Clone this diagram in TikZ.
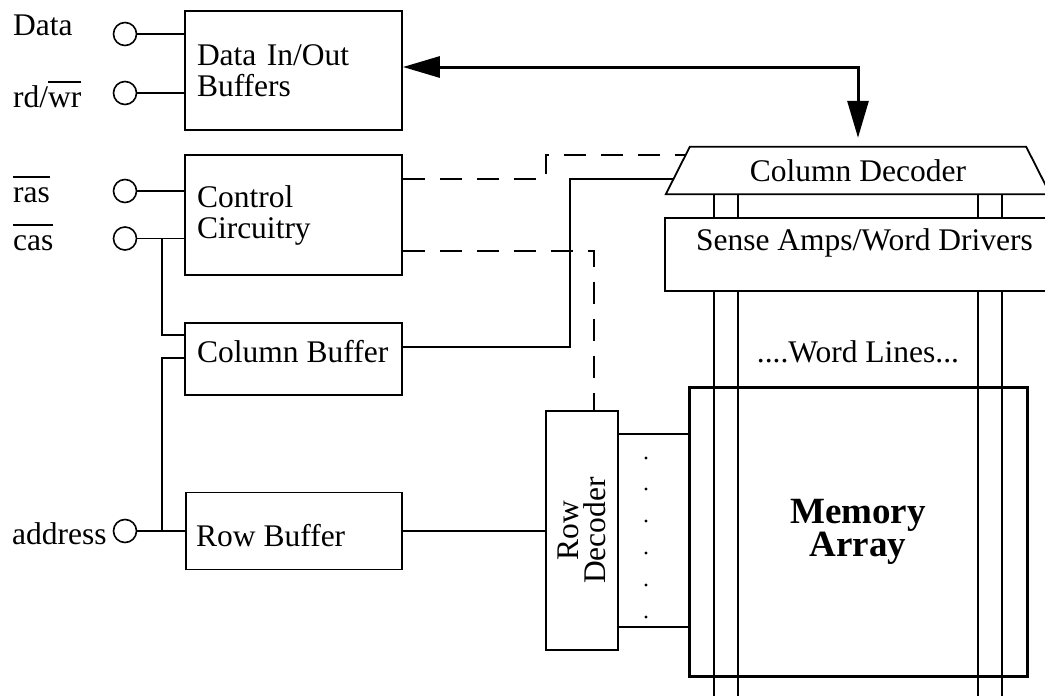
\documentclass[tikz,border=0pt]{standalone}
\usepackage{fontspec}
\setmainfont{Liberation Serif}
\newfontfamily\memfont{Liberation Serif}
\usetikzlibrary{arrows.meta,calc}
% overline placed at a fixed height above the baseline
\newcommand\ovl[1]{\setbox0=\hbox{#1}\rlap{\rule[24.5pt]{\wd0}{1.8pt}}\box0}

\begin{document}
\begin{tikzpicture}[x=1pt,y=-1pt,
  wire/.style={line width=1.8pt},
  ctlline/.style={line width=1.8pt, dash pattern=on 22pt off 15pt},
  bus/.style={line width=3pt,
    {Triangle[length=37pt,width=21pt]}-{Triangle[length=37pt,width=21pt]}},
  blk/.style={draw, line width=1.8pt, inner sep=0pt,
    font=\fontsize{31.5}{31}\selectfont},
  txtblk/.style={blk, align=left, inner xsep=12pt},
  port/.style={circle, draw, line width=1.6pt, minimum size=23pt, inner sep=0pt},
  lbl/.style={inner sep=0pt, font=\fontsize{31.5}{31}\selectfont},
]
\useasboundingbox (0,0) rectangle (1045,696);
\clip (0,0) rectangle (1045,696);

% input pins
\node[port] (pdata) at (125,34) {};
\node[port] (prw)   at (125,93) {};
\node[port] (pras)  at (125,191) {};
\node[port] (pcas)  at (125,238.5) {};
\node[port] (paddr) at (125,531) {};

\node[lbl, anchor=base west] (ldata) at (13,35)  {Data};
\node[lbl, anchor=base west] (lrw)   at (13,107) {rd/\ovl{wr}};
\node[lbl, anchor=base west] (lras)  at (13,202) {\ovl{ras}};
\node[lbl, anchor=base west] (lcas)  at (13,250) {\ovl{cas}};
\node[lbl, anchor=base west] (laddr) at (12,544) {address};

% buffers and control
\node[txtblk, minimum width=217pt, minimum height=119pt, text width=193pt]
  (dbuf) at (293.5,70.5) {Data In/Out\\Buffers};
\node[txtblk, minimum width=217pt, minimum height=120pt, text width=193pt]
  (ctrl) at (293.5,215) {Control\\Circuitry};
\node[blk, minimum width=217pt, minimum height=72pt] (colbuf) at (293.5,359) {};
\node[lbl, anchor=base west] (lcolbuf) at (197,362) {Column Buffer};
\node[blk, minimum width=216pt, minimum height=77pt] (rowbuf) at (294,531) {};
\node[lbl, anchor=base west] (lrowbuf) at (196,546) {Row Buffer};

% decoders
\node[blk, minimum width=72pt, minimum height=239pt] (rowdec) at (582,530.5) {};
\node[lbl, rotate=90, align=center, font=\fontsize{31.5}{27}\selectfont]
  (lrowdec) at (rowdec.center) {Row\\Decoder};
% column decoder: the node is the top width, the outline widens downwards
\node[lbl, minimum width=336pt, minimum height=47pt] (cdec) at (858,170.5) {Column Decoder};
\coordinate (cdbl) at ([xshift=-24pt]cdec.south west);
\coordinate (cdbr) at ([xshift=24pt]cdec.south east);
\draw[wire, line join=miter] (cdec.north west) -- (cdec.north east) -- (cdbr) -- (cdbl) -- cycle;

% sense amps and memory array
\node[blk, minimum width=386pt, minimum height=73pt] (sense) at (858,254.5) {};
\node[lbl, anchor=base] (lsense) at (864.5,250) {Sense Amps/Word Drivers};
\node[lbl, anchor=base] (lwords) at (858,362) {....Word Lines...};
\node[blk, line width=3pt, minimum width=338pt, minimum height=289pt, align=center,
  font=\memfont\fontsize{37}{33}\selectfont\bfseries]
  (mem) at (858,531.5) {Memory\\Array};

% bit lines
\foreach \x in {714,738,978,1002} {
  \draw[wire] (cdec.south -| \x,0) -- (sense.north -| \x,0);
  \draw[wire] (sense.south -| \x,0) -- (\x,700);
}

% points on the slanted left side of the column decoder
\coordinate (cdA) at ($(cdec.north west)!0.17!(cdbl)$);
\coordinate (cdB) at ($(cdec.north west)!0.68!(cdbl)$);

% pin wiring
\draw[wire] (pdata) -- (dbuf.west |- pdata);
\draw[wire] (prw)   -- (dbuf.west |- prw);
\draw[wire] (pras)  -- (ctrl.west |- pras);
\draw[wire] (pcas)  -- (ctrl.west |- pcas);
\draw[wire] (pcas -| 162,0) |- (colbuf.west |- 0,335);
\draw[wire] (paddr) -- (rowbuf.west |- paddr);
\draw[wire] (paddr -| 162,0) |- (colbuf.west |- 0,358);

% address paths
\draw[wire] (rowbuf.east) -- (rowbuf.east -| rowdec.west);
\draw[wire] (colbuf.east |- 0,347) -| (cdB -| 570,0) -- (cdB);

% control signals
\draw[ctlline] (ctrl.east |- 0,179) -| (cdA -| 546,0) -- (cdA);
\draw[ctlline] (ctrl.east |- 0,251) -| (rowdec.north -| 594,0);

% row select lines
\draw[wire] (rowdec.east |- 0,434) -- (mem.west |- 0,434);
\draw[wire] (rowdec.east |- 0,627) -- (mem.west |- 0,627);
\foreach \y in {458,489,521,553,585,617}
  \fill (646,\y) circle (1.7pt);

% data bus
\draw[bus, shorten >=9pt] (dbuf.east |- 0,67) -| (cdec.north);
\end{tikzpicture}
\end{document}
